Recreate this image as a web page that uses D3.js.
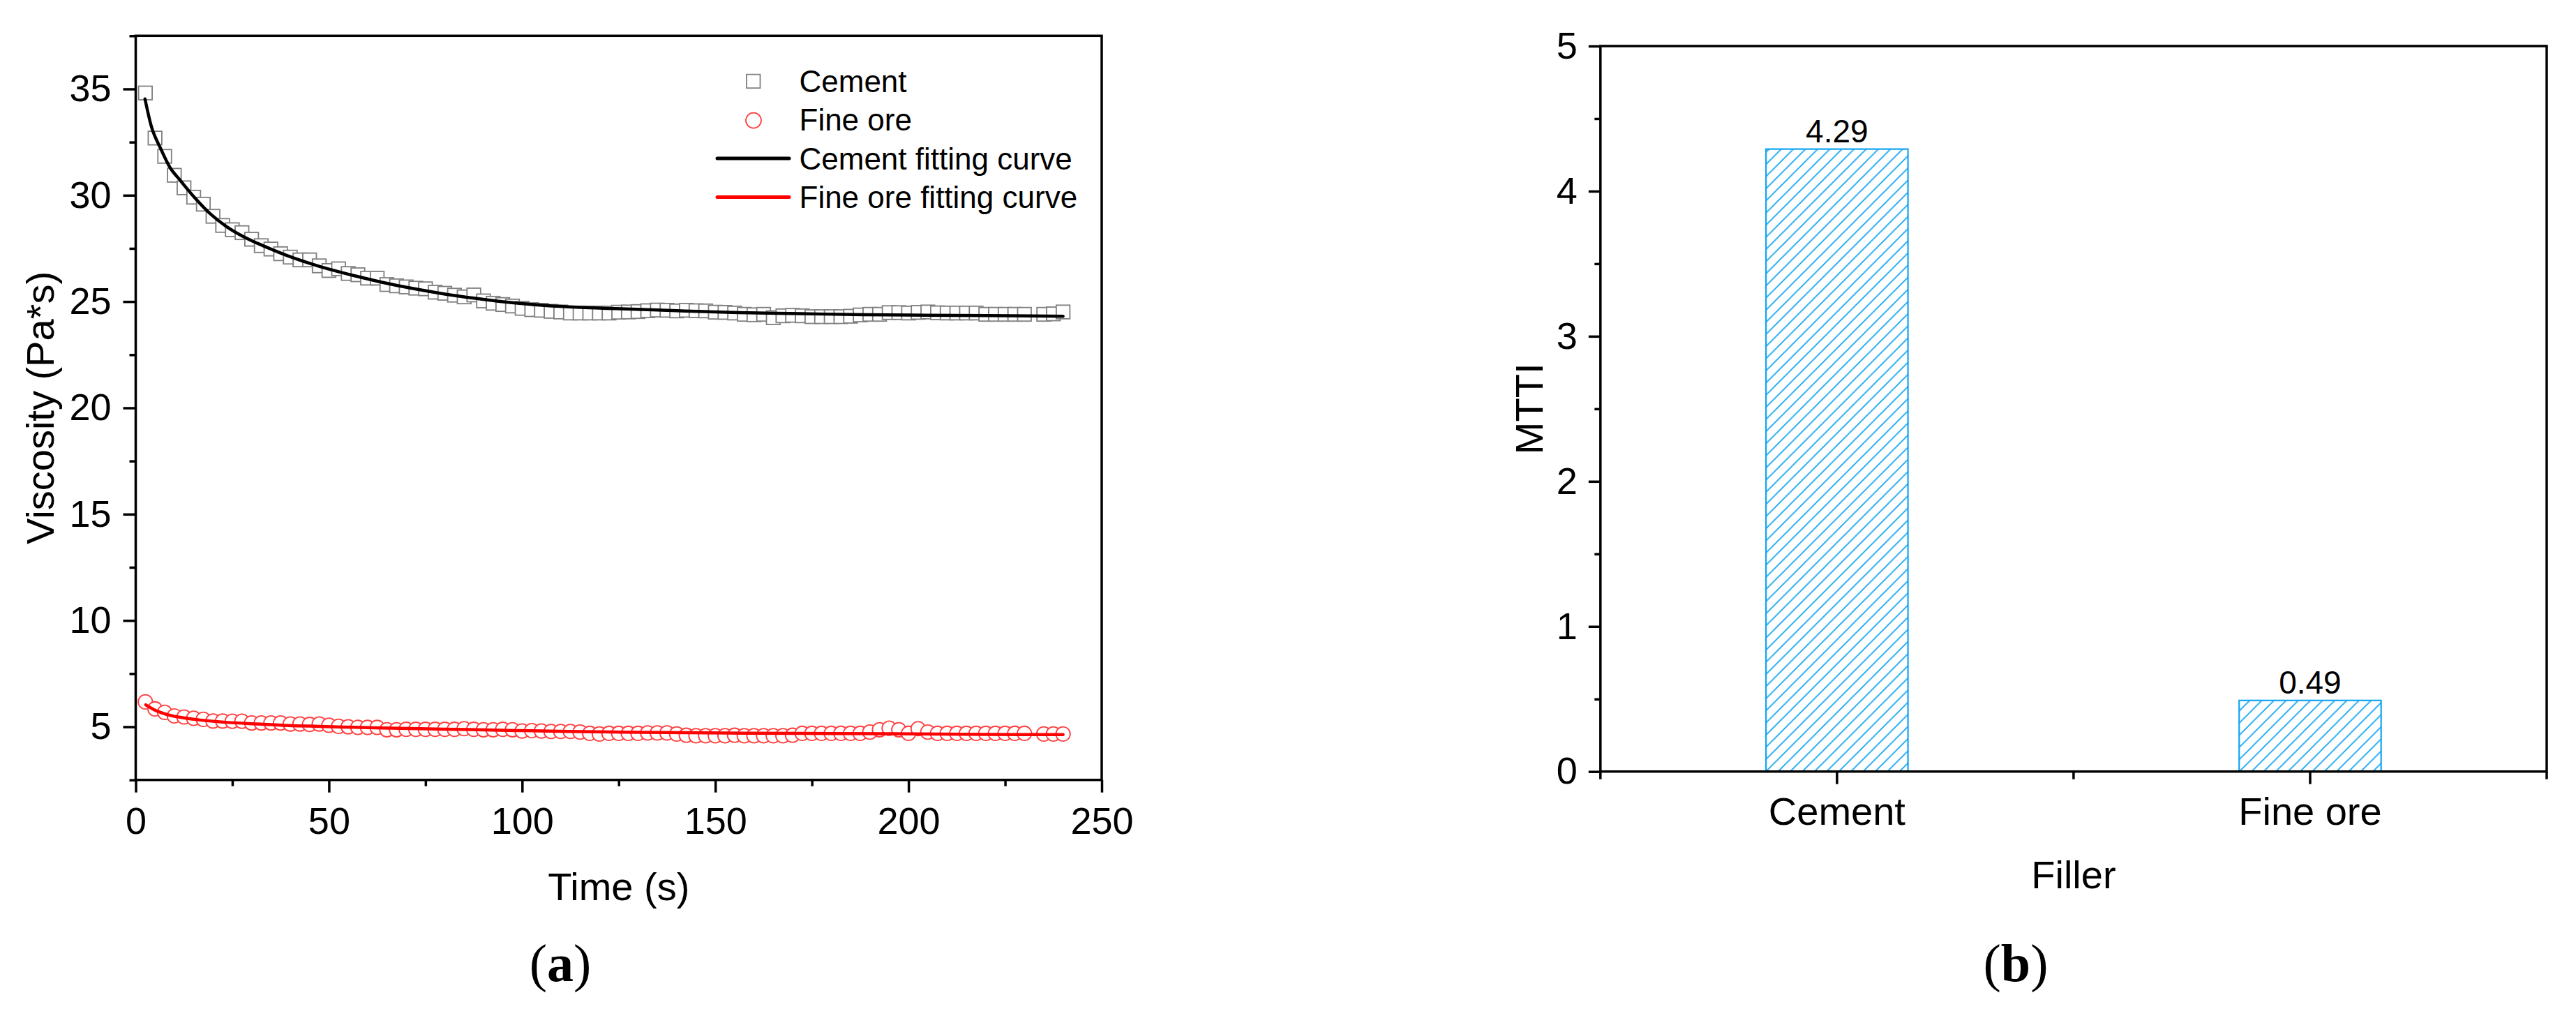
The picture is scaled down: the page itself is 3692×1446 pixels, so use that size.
<!DOCTYPE html>
<html>
<head>
<meta charset="utf-8">
<script src="https://cdn.jsdelivr.net/npm/d3@7"></script>
<style>
  body { margin: 0; background: #fff; }
  svg { display: block; }
</style>
</head>
<body>
<div id="chart"></div>
<script>
// ---- panel (a): viscosity vs time ----
const timeS = [2.5, 5, 7.5, 10, 12.5, 15, 17.5, 20, 22.5, 25, 27.5, 30, 32.5, 35, 37.5, 40,
  42.5, 45, 47.5, 50, 52.5, 55, 57.5, 60, 62.5, 65, 67.5, 70, 72.5, 75, 77.5, 80, 82.5, 85,
  87.5, 90, 92.5, 95, 97.5, 100, 102.5, 105, 107.5, 110, 112.5, 115, 117.5, 120, 122.5, 125,
  127.5, 130, 132.5, 135, 137.5, 140, 142.5, 145, 147.5, 150, 152.5, 155, 157.5, 160, 162.5,
  165, 167.5, 170, 172.5, 175, 177.5, 180, 182.5, 185, 187.5, 190, 192.5, 195, 197.5, 200,
  202.5, 205, 207.5, 210, 212.5, 215, 217.5, 220, 222.5, 225, 227.5, 230, 235, 237.5, 240];

const cementVisc = [34.81, 32.69, 31.83, 30.94, 30.35, 29.91, 29.58, 29.01, 28.58, 28.38, 28.24,
  27.93, 27.63, 27.47, 27.25, 27.09, 26.96, 26.96, 26.68, 26.46, 26.54, 26.32, 26.26, 26.10,
  26.10, 25.80, 25.74, 25.69, 25.63, 25.60, 25.44, 25.39, 25.30, 25.22, 25.31, 25.03, 24.92,
  24.86, 24.79, 24.68, 24.62, 24.59, 24.54, 24.51, 24.46, 24.46, 24.46, 24.46, 24.46, 24.50,
  24.51, 24.53, 24.57, 24.60, 24.59, 24.56, 24.59, 24.57, 24.56, 24.50, 24.49, 24.46, 24.40,
  24.38, 24.40, 24.24, 24.33, 24.35, 24.33, 24.29, 24.29, 24.29, 24.29, 24.31, 24.37, 24.40,
  24.40, 24.48, 24.48, 24.46, 24.49, 24.51, 24.47, 24.46, 24.46, 24.46, 24.46, 24.40, 24.40,
  24.40, 24.40, 24.40, 24.40, 24.42, 24.51];

const fineOreVisc = [6.17, 5.84, 5.68, 5.51, 5.46, 5.40, 5.35, 5.27, 5.27, 5.26, 5.26, 5.18,
  5.18, 5.18, 5.18, 5.13, 5.13, 5.11, 5.13, 5.07, 5.02, 5.00, 4.97, 4.97, 4.97, 4.86, 4.86,
  4.88, 4.88, 4.88, 4.88, 4.88, 4.88, 4.91, 4.88, 4.86, 4.86, 4.88, 4.86, 4.80, 4.82, 4.80,
  4.78, 4.78, 4.78, 4.75, 4.69, 4.66, 4.69, 4.69, 4.69, 4.69, 4.71, 4.71, 4.71, 4.66, 4.60,
  4.58, 4.58, 4.58, 4.58, 4.60, 4.58, 4.58, 4.58, 4.58, 4.58, 4.60, 4.69, 4.69, 4.69, 4.69,
  4.69, 4.69, 4.69, 4.75, 4.86, 4.93, 4.86, 4.69, 4.91, 4.75, 4.69, 4.69, 4.69, 4.69, 4.69,
  4.69, 4.69, 4.69, 4.69, 4.69, 4.66, 4.66, 4.66];

// fitting curves
const cementFitT = [2.4, 4.0, 6.5, 8.9, 11.3, 15.3, 19.4, 23.4, 27.4, 31.5, 35.5, 39.5, 47.6,
  55.6, 63.7, 71.8, 79.8, 87.9, 96, 104, 112.1, 120.1, 124.2, 140, 156.1, 172.2, 188.3, 204.5,
  220.6, 240];
const cementFitV = [34.53, 33.27, 32.18, 31.30, 30.75, 29.88, 29.11, 28.54, 28.10, 27.74, 27.43,
  27.14, 26.65, 26.26, 25.91, 25.61, 25.36, 25.15, 24.97, 24.84, 24.75, 24.69, 24.67, 24.57,
  24.48, 24.43, 24.38, 24.36, 24.34, 24.31];
const fineFitT = [2.6, 4.8, 7.3, 15.3, 23.4, 31.5, 39.5, 47.6, 63.7, 79.8, 96, 112.1, 125.6,
  148, 172.2, 196.4, 220.6, 240];
const fineFitV = [6.03, 5.80, 5.62, 5.35, 5.21, 5.13, 5.06, 5.02, 4.94, 4.89, 4.83, 4.78, 4.75,
  4.71, 4.69, 4.67, 4.64, 4.63];

const legendLabels = ['Cement', 'Fine ore', 'Cement fitting curve', 'Fine ore fitting curve'];
const xTicksA = [0, 50, 100, 150, 200, 250];
const xMinorA = [25, 75, 125, 175, 225];
const yTicksA = [5, 10, 15, 20, 25, 30, 35];
const yMinorA = [2.5, 7.5, 12.5, 17.5, 22.5, 27.5, 32.5, 37.5];

// ---- panel (b): MTTI per filler ----
const fillers = ['Cement', 'Fine ore'];
const mtti = [4.29, 0.49];
const yTicksB = [0, 1, 2, 3, 4, 5];
const yMinorB = [0.5, 1.5, 2.5, 3.5, 4.5];

const SANS = '"Liberation Sans", Arial, sans-serif';
const SERIF = '"Liberation Serif", "Times New Roman", serif';
const AXW = 3.5;
const BLUE = '#12a5f2';

const svg = d3.select('#chart').append('svg')
	.attr('width', 3692)
	.attr('height', 1446);

svg.append('rect')
	.attr('width', 3692)
	.attr('height', 1446)
	.attr('fill', '#fff');

function styleAxis(g, fontSize) {
	g.select('.domain').remove();
	g.attr('font-family', SANS).attr('font-size', fontSize);
	g.selectAll('.tick line').attr('stroke', '#000').attr('stroke-width', AXW);
	g.selectAll('.tick text').attr('fill', '#000');
}

// ================= panel (a) =================
const pa = { left: 194.5, right: 1579, top: 51.3, bottom: 1117.7 };
const x = d3.scaleLinear().domain([0, 250]).range([pa.left, pa.right]);
const y = d3.scaleLinear().domain([2.5, 37.5]).range([pa.bottom, pa.top]);

const ga = svg.append('g');

ga.append('g')
	.attr('transform', `translate(0,${pa.bottom})`)
	.call(d3.axisBottom(x).tickValues(xMinorA).tickSize(9).tickFormat(''))
	.call(g => styleAxis(g, 54));
ga.append('g')
	.attr('transform', `translate(0,${pa.bottom})`)
	.call(d3.axisBottom(x).tickValues(xTicksA).tickSize(18).tickPadding(21).tickFormat(d3.format('d')))
	.call(g => styleAxis(g, 54));
ga.append('g')
	.attr('transform', `translate(${pa.left},0)`)
	.call(d3.axisLeft(y).tickValues(yMinorA).tickSize(9).tickFormat(''))
	.call(g => styleAxis(g, 54));
ga.append('g')
	.attr('transform', `translate(${pa.left},0)`)
	.call(d3.axisLeft(y).tickValues(yTicksA).tickSize(18).tickPadding(17).tickFormat(d3.format('d')))
	.call(g => styleAxis(g, 54));

// markers
ga.append('g')
	.selectAll('rect')
	.data(d3.zip(timeS, cementVisc))
	.join('rect')
	.attr('x', d => x(d[0]) - 9.75)
	.attr('y', d => y(d[1]) - 9.75)
	.attr('width', 19.5)
	.attr('height', 19.5)
	.attr('fill', '#fff')
	.attr('stroke', '#7f7f7f')
	.attr('stroke-width', 1.8);

ga.append('g')
	.selectAll('circle')
	.data(d3.zip(timeS, fineOreVisc))
	.join('circle')
	.attr('cx', d => x(d[0]))
	.attr('cy', d => y(d[1]))
	.attr('r', 10.2)
	.attr('fill', '#fff')
	.attr('stroke', '#ff4040')
	.attr('stroke-width', 1.8);

const fitLine = d3.line()
	.x(d => x(d[0]))
	.y(d => y(d[1]))
	.curve(d3.curveMonotoneX);

ga.append('path')
	.attr('d', fitLine(d3.zip(cementFitT, cementFitV)))
	.attr('fill', 'none')
	.attr('stroke', '#000')
	.attr('stroke-width', 4.5)
	.attr('stroke-linecap', 'round');
ga.append('path')
	.attr('d', fitLine(d3.zip(fineFitT, fineFitV)))
	.attr('fill', 'none')
	.attr('stroke', '#ff0000')
	.attr('stroke-width', 4.5)
	.attr('stroke-linecap', 'round');

// frame
ga.append('rect')
	.attr('x', pa.left)
	.attr('y', pa.top)
	.attr('width', pa.right - pa.left)
	.attr('height', pa.bottom - pa.top)
	.attr('fill', 'none')
	.attr('stroke', '#000')
	.attr('stroke-width', AXW);

// legend
const leg = ga.append('g').attr('font-family', SANS).attr('font-size', 44);
const legRows = leg.selectAll('g')
	.data(legendLabels)
	.join('g')
	.attr('transform', (d, i) => `translate(0,${131.7 + i * 55.4})`);
legRows.append('text')
	.text(d => d)
	.attr('x', 1145.5)
	.attr('y', 0);
legRows.filter((d, i) => i === 0).append('rect')
	.attr('x', 1070)
	.attr('y', -25)
	.attr('width', 19.5)
	.attr('height', 19.5)
	.attr('fill', '#fff')
	.attr('stroke', '#7f7f7f')
	.attr('stroke-width', 1.8);
legRows.filter((d, i) => i === 1).append('circle')
	.attr('cx', 1080)
	.attr('cy', -14.5)
	.attr('r', 11)
	.attr('fill', '#fff')
	.attr('stroke', '#ff4040')
	.attr('stroke-width', 1.8);
legRows.filter((d, i) => i >= 2).append('line')
	.attr('x1', 1028)
	.attr('x2', 1131)
	.attr('y1', -15.5)
	.attr('y2', -15.5)
	.attr('stroke', (d, i) => i === 0 ? '#000' : '#ff0000')
	.attr('stroke-width', 5)
	.attr('stroke-linecap', 'round');

// titles
ga.append('text')
	.text('Time (s)')
	.attr('x', (pa.left + pa.right) / 2)
	.attr('y', 1290)
	.attr('text-anchor', 'middle')
	.attr('font-family', SANS)
	.attr('font-size', 56);
ga.append('text')
	.text('Viscosity (Pa*s)')
	.attr('transform', `translate(77,${(pa.top + pa.bottom) / 2}) rotate(-90)`)
	.attr('text-anchor', 'middle')
	.attr('font-family', SANS)
	.attr('font-size', 56);

const capA = ga.append('text')
	.attr('x', 803)
	.attr('y', 1406)
	.attr('text-anchor', 'middle')
	.attr('font-family', SERIF)
	.attr('font-size', 76);
capA.append('tspan').text('(');
capA.append('tspan').text('a').attr('font-weight', 'bold');
capA.append('tspan').text(')');

// ================= panel (b) =================
const pb = { left: 2293.8, right: 3650, top: 66, bottom: 1105.7 };
const xb = d3.scaleBand().domain(fillers).range([pb.left, pb.right]).padding(0);
const yb = d3.scaleLinear().domain([0, 5]).range([pb.bottom, pb.top]);
const barW = xb.bandwidth() * 0.3;

const defs = svg.append('defs');
const s = 17.4;
defs.append('pattern')
	.attr('id', 'hatch')
	.attr('patternUnits', 'userSpaceOnUse')
	.attr('width', s)
	.attr('height', s)
	.append('path')
	.attr('d', `M0,${s} L${s},0 M${-s / 4},${s / 4} L${s / 4},${-s / 4} M${3 * s / 4},${5 * s / 4} L${5 * s / 4},${3 * s / 4}`)
	.attr('stroke', BLUE)
	.attr('stroke-width', 1.8);

const gb = svg.append('g');

gb.append('g')
	.attr('transform', `translate(${pb.left},0)`)
	.call(d3.axisLeft(yb).tickValues(yMinorB).tickSize(8.5).tickFormat(''))
	.call(g => styleAxis(g, 54));
gb.append('g')
	.attr('transform', `translate(${pb.left},0)`)
	.call(d3.axisLeft(yb).tickValues(yTicksB).tickSize(17).tickPadding(16).tickFormat(d3.format('d')))
	.call(g => styleAxis(g, 54));
gb.append('g')
	.attr('transform', `translate(0,${pb.bottom})`)
	.call(d3.axisBottom(xb).tickSize(18).tickPadding(18.5))
	.call(g => styleAxis(g, 56));

// minor ticks on category boundaries
gb.append('g')
	.selectAll('line')
	.data([...fillers.map(d => xb(d)), pb.right])
	.join('line')
	.attr('x1', d => d)
	.attr('x2', d => d)
	.attr('y1', pb.bottom)
	.attr('y2', pb.bottom + 11)
	.attr('stroke', '#000')
	.attr('stroke-width', AXW);

gb.append('g')
	.selectAll('rect')
	.data(d3.zip(fillers, mtti))
	.join('rect')
	.attr('x', d => xb(d[0]) + xb.bandwidth() / 2 - barW / 2)
	.attr('y', d => yb(d[1]))
	.attr('width', barW)
	.attr('height', d => yb(0) - yb(d[1]))
	.attr('fill', 'url(#hatch)')
	.attr('stroke', BLUE)
	.attr('stroke-width', 2.2);

gb.append('g')
	.selectAll('text')
	.data(d3.zip(fillers, mtti))
	.join('text')
	.text(d => d[1].toFixed(2))
	.attr('x', d => xb(d[0]) + xb.bandwidth() / 2)
	.attr('y', d => yb(d[1]) - 10)
	.attr('text-anchor', 'middle')
	.attr('font-family', SANS)
	.attr('font-size', 46);

gb.append('rect')
	.attr('x', pb.left)
	.attr('y', pb.top)
	.attr('width', pb.right - pb.left)
	.attr('height', pb.bottom - pb.top)
	.attr('fill', 'none')
	.attr('stroke', '#000')
	.attr('stroke-width', AXW);

gb.append('text')
	.text('Filler')
	.attr('x', (pb.left + pb.right) / 2)
	.attr('y', 1272.6)
	.attr('text-anchor', 'middle')
	.attr('font-family', SANS)
	.attr('font-size', 56);
gb.append('text')
	.text('MTTI')
	.attr('transform', `translate(2211,${(pb.top + pb.bottom) / 2}) rotate(-90)`)
	.attr('text-anchor', 'middle')
	.attr('font-family', SANS)
	.attr('font-size', 56);

const capB = gb.append('text')
	.attr('x', 2889)
	.attr('y', 1406)
	.attr('text-anchor', 'middle')
	.attr('font-family', SERIF)
	.attr('font-size', 76);
capB.append('tspan').text('(');
capB.append('tspan').text('b').attr('font-weight', 'bold');
capB.append('tspan').text(')');
</script>
</body>
</html>
